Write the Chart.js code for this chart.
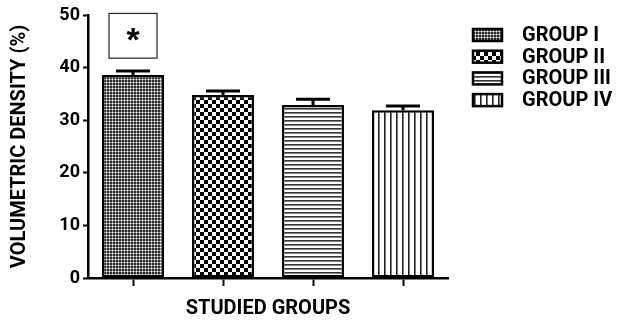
<!DOCTYPE html>
<html><head><meta charset="utf-8">
<script src="https://cdn.jsdelivr.net/npm/chart.js@4/dist/chart.umd.min.js"></script>
<style>html,body{margin:0;padding:0;background:#fff;}canvas{display:block;}</style>
</head><body>
<canvas id="c" width="619" height="321"></canvas>
<script>
const categories = ['GROUP I', 'GROUP II', 'GROUP III', 'GROUP IV'];
const means = [38.6, 34.8, 32.9, 31.9];
const sems = [0.75, 0.75, 1.1, 0.8];
const yTicks = [0, 10, 20, 30, 40, 50];
const yTitle = 'VOLUMETRIC DENSITY (%)';
const xTitle = 'STUDIED GROUPS';
const marker = '*';

const FONT = "'Roboto', 'Liberation Sans', sans-serif";

function makePattern(kind) {
  const c = document.createElement('canvas');
  const g = c.getContext('2d');
  if (kind === 0) {
    c.width = 3; c.height = 3;
    g.fillStyle = '#2a2a2a'; g.fillRect(0, 0, 3, 3);
    g.fillStyle = '#9a9a9a';
    g.fillRect(0, 1, 3, 1); g.fillRect(1, 0, 1, 3);
    g.fillStyle = '#ffffff'; g.fillRect(1, 1, 1, 1);
  } else if (kind === 1) {
    c.width = 8; c.height = 8;
    g.fillStyle = '#fff'; g.fillRect(0, 0, 8, 8);
    g.fillStyle = '#000';
    g.fillRect(0, 0, 4, 4); g.fillRect(4, 4, 4, 4);
  } else if (kind === 2) {
    c.width = 4; c.height = 4;
    g.fillStyle = '#fff'; g.fillRect(0, 0, 4, 4);
    g.fillStyle = '#333'; g.fillRect(0, 0, 4, 1.6);
  } else {
    c.width = 6; c.height = 6;
    g.fillStyle = '#fff'; g.fillRect(0, 0, 6, 6);
    g.fillStyle = '#222'; g.fillRect(0, 0, 1.6, 6);
  }
  return document.getElementById('c').getContext('2d').createPattern(c, 'repeat');
}
const patterns = categories.map((_, i) => makePattern(i));

const errorBars = {
  id: 'errorBars',
  afterDatasetsDraw(chart) {
    const { ctx, scales: { x, y } } = chart;
    ctx.save();
    ctx.strokeStyle = '#000';
    ctx.lineWidth = 3;
    means.forEach((m, i) => {
      const px = x.getPixelForValue(i);
      const yb = y.getPixelForValue(m);
      const yt = y.getPixelForValue(m + sems[i]);
      ctx.beginPath();
      ctx.moveTo(px, yb); ctx.lineTo(px, yt);
      ctx.moveTo(px - 17, yt); ctx.lineTo(px + 17, yt);
      ctx.stroke();
    });
    // significance box over group I
    const bx = x.getPixelForValue(0);
    const top = y.getPixelForValue(50.3);
    const bot = y.getPixelForValue(41.8);
    ctx.lineWidth = 1.2;
    ctx.strokeStyle = '#222';
    ctx.strokeRect(bx - 24, top, 48, bot - top);
    ctx.fillStyle = '#000';
    ctx.font = "bold 34px 'Liberation Sans', sans-serif";
    ctx.textAlign = 'center';
    ctx.textBaseline = 'middle';
    ctx.fillText(marker, bx, (top + bot) / 2 + 6);
    ctx.restore();
  }
};

const legendPlugin = {
  id: 'customLegend',
  afterDraw(chart) {
    const { ctx } = chart;
    ctx.save();
    categories.forEach((lab, i) => {
      const cy = 35 + i * 21.7;
      ctx.fillStyle = patterns[i];
      ctx.fillRect(473, cy - 6, 29, 12);
      ctx.strokeStyle = '#000';
      ctx.lineWidth = 2.5;
      ctx.strokeRect(473, cy - 6, 29, 12);
      ctx.fillStyle = '#000';
      ctx.font = 'bold 20px ' + FONT;
      ctx.textAlign = 'left';
      ctx.textBaseline = 'middle';
      ctx.fillText(lab, 522, cy + 1);
    });
    ctx.restore();
  }
};

new Chart(document.getElementById('c'), {
  type: 'bar',
  data: {
    labels: categories,
    datasets: [{
      label: 'Volumetric density',
      data: means,
      backgroundColor: patterns,
      borderColor: '#000',
      borderWidth: 2.5,
      borderSkipped: false,
      barPercentage: 0.69,
      categoryPercentage: 1.0
    }]
  },
  options: {
    responsive: false,
    animation: false,
    devicePixelRatio: 1,
    layout: { padding: { left: 0, top: 15, right: 171, bottom: 0 } },
    plugins: { legend: { display: false }, tooltip: { enabled: false } },
    scales: {
      x: {
        type: 'category',
        offset: true,
        afterFit(s) { s.height = 43; },
        grid: { offset: false, drawOnChartArea: false, drawTicks: true, tickLength: 8, tickWidth: 2, color: '#000' },
        border: { display: true, color: '#000', width: 2.5 },
        ticks: { display: false },
        title: { display: true, text: xTitle, color: '#000', font: { family: FONT, size: 20, weight: 'bold' }, padding: { top: 0, bottom: 0 } }
      },
      y: {
        min: 0, max: 50,
        afterFit(s) { s.width = 88; },
        afterBuildTicks(s) { s.ticks = yTicks.map(v => ({ value: v })); },
        grid: { drawOnChartArea: false, drawTicks: true, tickLength: 5, tickWidth: 2, color: '#000' },
        border: { display: true, color: '#000', width: 2.5 },
        ticks: { color: '#000', padding: 3, font: { family: FONT, size: 18, weight: 'bold' } },
        title: { display: true, text: yTitle, color: '#000', font: { family: FONT, size: 20, weight: 'bold' }, padding: { top: 8, bottom: 0 } }
      }
    }
  },
  plugins: [errorBars, legendPlugin]
});
</script>
</body></html>
